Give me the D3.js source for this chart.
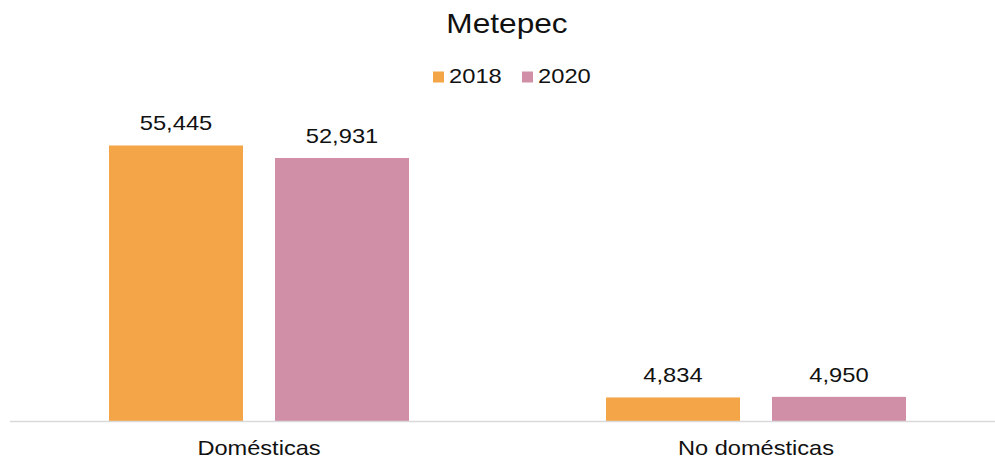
<!DOCTYPE html>
<html><head><meta charset="utf-8">
<script src="https://cdn.jsdelivr.net/npm/d3@7"></script>
<style>body{margin:0;background:#fff}svg{display:block}text{font-family:"Liberation Sans",Arial,sans-serif;fill:#111}</style>
</head><body>
<script>
const title = "Metepec";
const categories = ["Domésticas", "No domésticas"];
const seriesNames = ["2018", "2020"];
const values2018 = [55445, 4834];
const values2020 = [52931, 4950];
const colors = ["#F3A548", "#D08FA6"];

const W = 995, H = 459;
const baseY = 421.5;
const sx = 1.13; // horizontal stretch of text in reference

const svg = d3.select("body").append("svg").attr("width", W).attr("height", H);

const y = d3.scaleLinear().domain([0, 60000]).range([baseY, baseY - 298.7]);
const x0 = d3.scaleBand().domain(categories).range([10.5, 1004.5]).padding(0);
const x1 = d3.scaleBand().domain(seriesNames).range([98.5, 398.5]).paddingInner(32/166).paddingOuter(0);

const data = categories.map((c, i) => ({cat: c, vals: [values2018[i], values2020[i]]}));

function stretchedText(sel, xx, yy, s) {
  return sel.attr("transform", `translate(${xx},${yy}) scale(${s || sx},1)`);
}

// title
stretchedText(svg.append("text").text(title).attr("text-anchor", "middle").attr("font-size", 28), 507, 33);

// legend
const legendItems = [{x: 433}, {x: 522}];
seriesNames.forEach((s, i) => {
  svg.append("rect").attr("x", legendItems[i].x).attr("y", 71.5).attr("width", 11).attr("height", 11).attr("fill", colors[i]);
  stretchedText(svg.append("text").text(s).attr("font-size", 21), legendItems[i].x + 16, 83);
});

// bars
const g = svg.selectAll("g.cat").data(data).join("g").attr("class", "cat")
  .attr("transform", d => `translate(${x0(d.cat)},0)`);

g.selectAll("rect").data(d => d.vals.map((v, i) => ({s: seriesNames[i], v, i})))
  .join("rect")
  .attr("x", d => x1(d.s))
  .attr("y", d => y(d.v))
  .attr("width", x1.bandwidth())
  .attr("height", d => baseY - y(d.v))
  .attr("fill", d => colors[d.i]);

const fmt = d3.format(",");
g.selectAll("text.val").data(d => d.vals.map((v, i) => ({s: seriesNames[i], v, i})))
  .join("text").attr("class", "val")
  .attr("text-anchor", "middle").attr("font-size", 21)
  .text(d => fmt(d.v))
  .attr("transform", d => `translate(${x1(d.s) + x1.bandwidth()/2},${y(d.v) - 15}) scale(${sx},1)`);

// axis line
svg.append("line").attr("x1", 10).attr("x2", 995).attr("y1", baseY).attr("y2", baseY)
  .attr("stroke", "#d9d9d9").attr("stroke-width", 1.5);

// category labels
categories.forEach(c => {
  stretchedText(svg.append("text").text(c).attr("text-anchor", "middle").attr("font-size", 20),
    x0(c) + x0.bandwidth()/2, 454.5, 1.18);
});
</script>
</body></html>
